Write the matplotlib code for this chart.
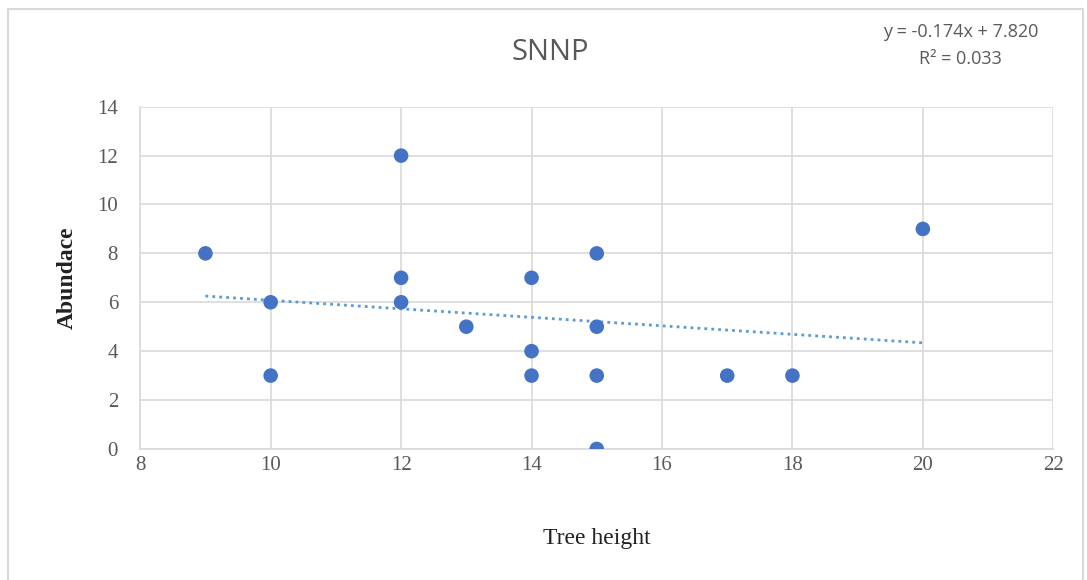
import numpy as np
import matplotlib
matplotlib.use("Agg")
import matplotlib.pyplot as plt
from matplotlib.patches import Rectangle

# tree height vs abundance (SNNP)
tree_height = [9, 10, 10, 12, 12, 12, 13, 14, 14, 14, 15, 15, 15, 15, 17, 18, 20]
abundance = [8, 6, 3, 12, 7, 6, 5, 7, 4, 3, 8, 5, 3, 0, 3, 3, 9]
x_ticks = [8, 10, 12, 14, 16, 18, 20, 22]
y_ticks = [0, 2, 4, 6, 8, 10, 12, 14]

# trendline as printed on the chart
trend_slope = -0.174
trend_intercept = 7.820
r_squared = 0.033

fig = plt.figure(figsize=(10.87, 5.8), dpi=100)
ax = fig.add_axes([0.129, 0.226, 0.840, 0.590])

# chart frame (bottom edge falls off the image)
fig.patches.append(Rectangle((8 / 1087, -10 / 580), 1075 / 1087, 581 / 580,
                             transform=fig.transFigure, fill=False,
                             edgecolor="#d9d9d9", linewidth=1.5))

ax.scatter(tree_height, abundance, s=110, color="#4472c4", zorder=3,
           edgecolors="none")

xs = np.array([min(tree_height), max(tree_height)])
ax.plot(xs, trend_slope * xs + trend_intercept, linestyle=(0, (1, 1.5)),
        color="#5b9bd5", linewidth=2, zorder=2)

ax.set_xlim(8, 22)
ax.set_ylim(0, 14)
ax.set_xticks(x_ticks)
ax.set_yticks(y_ticks)
ax.grid(True, color="#d9d9d9", linewidth=1.2)
ax.set_axisbelow(True)
for side in ["top", "right"]:
    ax.spines[side].set_visible(False)
for side in ["left", "bottom"]:
    ax.spines[side].set_color("#d9d9d9")
    ax.spines[side].set_linewidth(1.2)
ax.tick_params(length=0, labelsize=15, labelcolor="#595959")
ax.tick_params(axis="x", pad=5)
ax.tick_params(axis="y", pad=16)
for lbl in ax.get_xticklabels() + ax.get_yticklabels():
    lbl.set_fontfamily("Liberation Serif")

ax.set_xlabel("Tree height", family="Liberation Serif", fontsize=17,
              labelpad=38, color="#222222")
ax.set_ylabel("Abundace", family="Liberation Serif", fontsize=17,
              fontweight="bold", labelpad=14, color="#222222")

fig.text(0.506, 0.91, "SNNP", ha="center", va="center", fontsize=21,
         color="#595959", family="Open Sans")
fig.text(0.884, 0.945, f"y = {trend_slope:.3f}x + {trend_intercept:.3f}",
         ha="center", va="center", fontsize=13, color="#595959",
         family="Open Sans")
fig.text(0.884, 0.899, f"R² = {r_squared:.3f}", ha="center", va="center",
         fontsize=13, color="#595959", family="Open Sans")

fig.savefig("out.png", dpi=100)
